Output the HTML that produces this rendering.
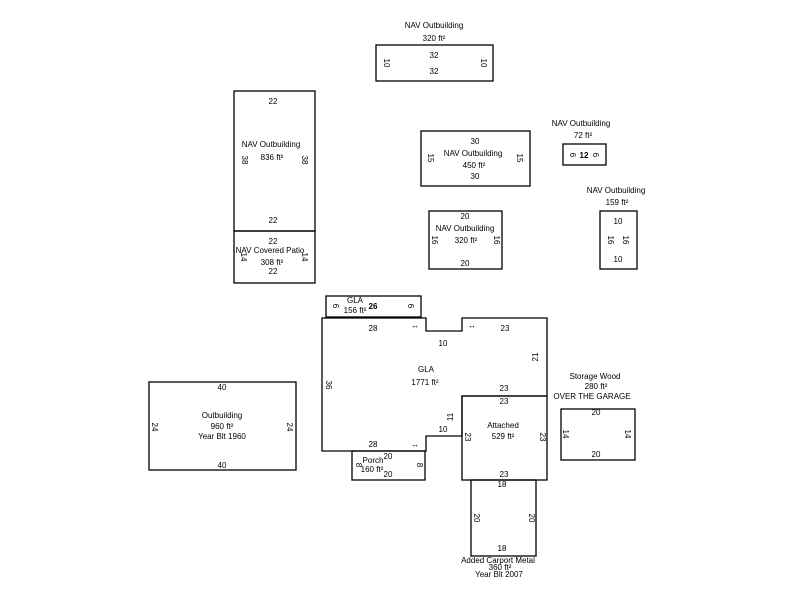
<!DOCTYPE html>
<html><head><meta charset="utf-8"><style>
html,body{margin:0;padding:0;background:#fff;width:800px;height:600px;overflow:hidden}
svg text{font-family:"Liberation Sans",sans-serif;font-size:8px;fill:#000;text-anchor:middle}
</style></head><body>
<svg width="800" height="600" viewBox="0 0 800 600" xmlns="http://www.w3.org/2000/svg">
<g fill="none" stroke="#000" stroke-width="1.3">
<rect x="376" y="45" width="117" height="36"/>
<rect x="234" y="91" width="81" height="140"/>
<rect x="234" y="231" width="81" height="52"/>
<rect x="421" y="131" width="109" height="55"/>
<rect x="429" y="211" width="73" height="58"/>
<rect x="563" y="144" width="43" height="21"/>
<rect x="600" y="211" width="37" height="58"/>
<rect x="326" y="296" width="95" height="21"/>
<polygon points="322,318 426,318 426,331 462,331 462,318 547,318 547,396 462,396 462,436 426,436 426,451 322,451"/>
<rect x="462" y="396" width="85" height="84"/>
<rect x="352" y="451" width="73" height="29"/>
<rect x="471" y="480" width="65" height="76"/>
<rect x="149" y="382" width="147" height="88"/>
<rect x="561" y="409" width="74" height="51"/>
</g>
<text x="434" y="28">NAV Outbuilding</text><text x="434" y="41">320 ft²</text>
<text x="434" y="58">32</text><text x="434" y="74">32</text>
<text transform="translate(384,63) rotate(90)">10</text><text transform="translate(481,63) rotate(90)">10</text>

<text x="273" y="104">22</text><text x="271" y="147">NAV Outbuilding</text><text x="272" y="160">836 ft²</text>
<text transform="translate(242,160) rotate(90)">38</text><text transform="translate(302,160) rotate(90)">38</text>
<text x="273" y="223">22</text>
<text x="273" y="244">22</text><text x="270" y="253">NAV Covered Patio</text><text x="272" y="265">308 ft²</text><text x="273" y="274">22</text>
<text transform="translate(241,257) rotate(90)">14</text><text transform="translate(302,257) rotate(90)">14</text>

<text x="475" y="144">30</text><text x="473" y="156">NAV Outbuilding</text><text x="474" y="168">450 ft²</text><text x="475" y="179">30</text>
<text transform="translate(428,158) rotate(90)">15</text><text transform="translate(517,158) rotate(90)">15</text>

<text x="465" y="219">20</text><text x="465" y="231">NAV Outbuilding</text><text x="466" y="243">320 ft²</text><text x="465" y="266">20</text>
<text transform="translate(432,240) rotate(90)">16</text><text transform="translate(494,240) rotate(90)">16</text>

<text x="581" y="126">NAV Outbuilding</text><text x="583" y="138">72 ft²</text>
<text x="584" y="158" style="font-weight:bold">12</text>
<text transform="translate(570,155) rotate(90)">6</text><text transform="translate(593,155) rotate(90)">6</text>

<text x="616" y="193">NAV Outbuilding</text><text x="617" y="205">159 ft²</text>
<text x="618" y="224">10</text><text x="618" y="262">10</text>
<text transform="translate(608,240) rotate(90)">16</text><text transform="translate(623,240) rotate(90)">16</text>

<text x="355" y="303">GLA</text><text x="355" y="313">156 ft²</text><text x="373" y="309" style="font-weight:bold">26</text>
<text transform="translate(333,306) rotate(90)">6</text><text transform="translate(408,306) rotate(90)">6</text>

<text x="373" y="331">28</text><text x="443" y="346">10</text><text x="505" y="331">23</text>
<text transform="translate(538,357) rotate(-90)">21</text>
<text x="426" y="372">GLA</text><text x="425" y="385">1771 ft²</text>
<text transform="translate(326,385) rotate(90)">36</text>
<text x="504" y="391">23</text><text x="504" y="404">23</text>
<text transform="translate(453,417) rotate(-90)">11</text>
<text x="443" y="432">10</text>
<text x="373" y="447">28</text>
<text x="415" y="328">↔</text><text x="472" y="328">↔</text><text x="415" y="447">↔</text>
<text x="503" y="428">Attached</text><text x="503" y="439">529 ft²</text>
<text transform="translate(465,437) rotate(90)">23</text><text transform="translate(540,437) rotate(90)">23</text>
<text x="504" y="477">23</text>

<text x="373" y="463">Porch</text><text x="372" y="472">160 ft²</text><text x="388" y="459">20</text><text x="388" y="477">20</text>
<text transform="translate(356,465) rotate(90)">8</text><text transform="translate(417,465) rotate(90)">8</text>

<text x="502" y="487">18</text><text x="502" y="551">18</text>
<text transform="translate(474,518) rotate(90)">20</text><text transform="translate(529,518) rotate(90)">20</text>
<text x="498" y="563">Added Carport Metal</text><text x="500" y="570">360 ft²</text><text x="499" y="577">Year Blt 2007</text>

<text x="222" y="390">40</text><text x="222" y="418">Outbuilding</text><text x="222" y="429">960 ft²</text><text x="222" y="439">Year Blt 1960</text><text x="222" y="468">40</text>
<text transform="translate(152,427) rotate(90)">24</text><text transform="translate(287,427) rotate(90)">24</text>

<text x="595" y="379">Storage Wood</text><text x="596" y="389">280 ft²</text><text x="592" y="399">OVER THE GARAGE</text>
<text x="596" y="415">20</text><text x="596" y="457">20</text>
<text transform="translate(563,434) rotate(90)">14</text><text transform="translate(625,434) rotate(90)">14</text>
</svg>
</body></html>
